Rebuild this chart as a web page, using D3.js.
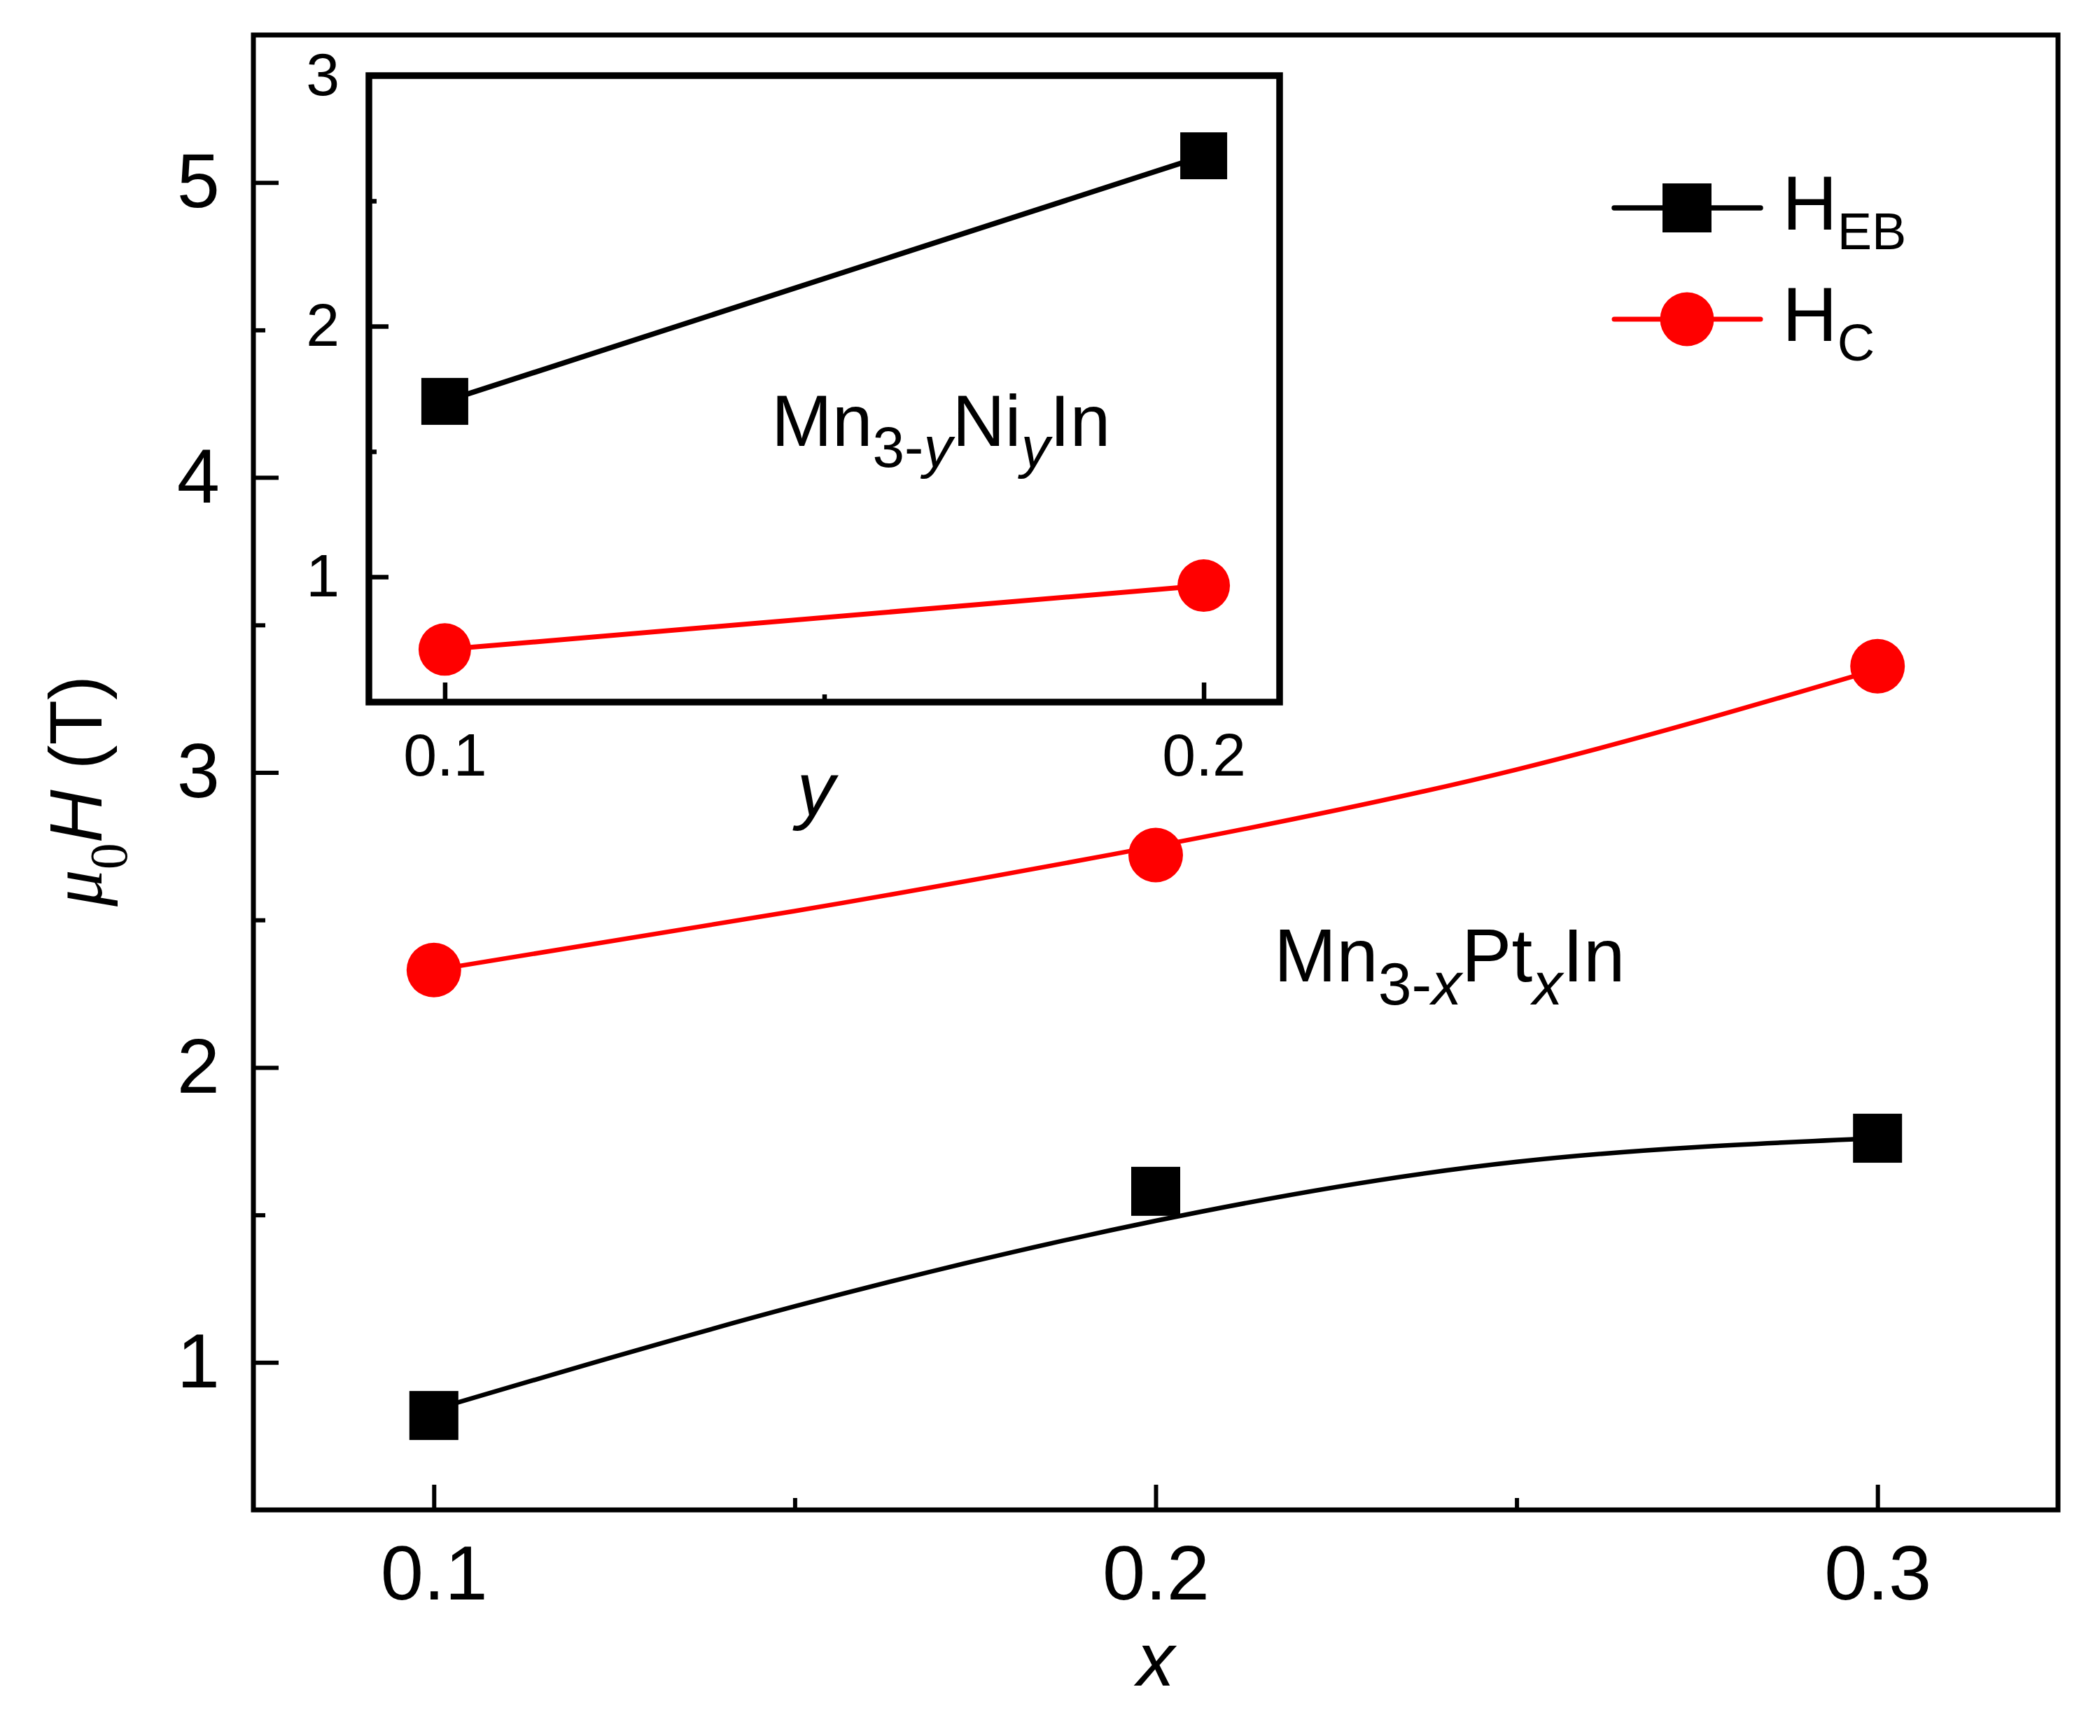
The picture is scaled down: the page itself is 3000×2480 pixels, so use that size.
<!DOCTYPE html>
<html>
<head>
<meta charset="utf-8">
<script src="https://cdn.jsdelivr.net/npm/d3@7"></script>
<style>
    body { margin: 0; background: #fff; }
    text { font-family: "Liberation Sans", Arial, sans-serif; fill: #000; }
</style>
</head>
<body>
<svg id="chart"></svg>
<script>
// main panel: Mn3-xPtxIn
const xVals = [0.1, 0.2, 0.3];
const hebVals = [0.82, 1.58, 1.76];
const hcVals = [2.33, 2.72, 3.36];
// smooth guide curves
const fitX = [0.1, 0.15, 0.2, 0.25, 0.3];
const hebFit = [0.84, 1.19, 1.48, 1.68, 1.76];
const hcFit = [2.33, 2.53, 2.75, 3.01, 3.35];

// inset: Mn3-yNiyIn
const yVals = [0.1, 0.2];
const insetHeb = [1.70, 2.68];
const insetHc = [0.71, 0.965];

const xTicks = [0.1, 0.2, 0.3];
const xMinor = [0.15, 0.25];
const yTicks = [1, 2, 3, 4, 5];
const yMinor = [1.5, 2.5, 3.5, 4.5];
const insetXTicks = [0.1, 0.2];
const insetXMinor = [0.15];
const insetYTicks = [1, 2, 3];
const insetYMinor = [1.5, 2.5];

const width = 3000;
const height = 2480;
const main = { left: 362, right: 2940, top: 50, bottom: 2157 };
const inset = { left: 527, right: 1828, top: 108, bottom: 1003 };

const svg = d3.select("#chart")
    .attr("width", width)
    .attr("height", height);

svg.append("rect")
    .attr("width", width)
    .attr("height", height)
    .attr("fill", "#fff");

// scales
const xScale = d3.scaleLinear().domain([0.075, 0.325]).range([main.left, main.right]);
const yScale = d3.scaleLinear().domain([0.5, 5.5]).range([main.bottom, main.top]);
const ixScale = d3.scaleLinear().domain([0.09, 0.21]).range([inset.left, inset.right]);
const iyScale = d3.scaleLinear().domain([0.5, 3]).range([inset.bottom, inset.top]);

function drawAxes(g, xs, ys, box, opt) {
    const bottom = g.append("g").attr("transform", `translate(0, ${box.bottom})`);
    bottom.call(d3.axisBottom(xs).tickValues(opt.xTicks).tickFormat(d3.format(".1f"))
        .tickSize(-opt.major).tickPadding(opt.xPad));
    const bottomMinor = g.append("g").attr("transform", `translate(0, ${box.bottom})`);
    bottomMinor.call(d3.axisBottom(xs).tickValues(opt.xMinor).tickFormat("").tickSize(-opt.minor));

    const left = g.append("g").attr("transform", `translate(${box.left}, 0)`);
    left.call(d3.axisLeft(ys).tickValues(opt.yTicks).tickFormat(d3.format("d"))
        .tickSize(-opt.major).tickPadding(opt.yPad));
    const leftMinor = g.append("g").attr("transform", `translate(${box.left}, 0)`);
    leftMinor.call(d3.axisLeft(ys).tickValues(opt.yMinor).tickFormat("").tickSize(-opt.minor));

    g.selectAll(".domain").remove();
    g.selectAll(".tick line").attr("stroke", "#000").attr("stroke-width", opt.tickWidth);
    g.selectAll(".tick text")
        .style("font-family", '"Liberation Sans", Arial, sans-serif')
        .style("font-size", opt.fontSize + "px")
        .attr("fill", "#000");

    // frame on top of ticks
    g.append("rect")
        .attr("x", box.left)
        .attr("y", box.top)
        .attr("width", box.right - box.left)
        .attr("height", box.bottom - box.top)
        .attr("fill", "none")
        .attr("stroke", "#000")
        .attr("stroke-width", opt.frameWidth);
}

// main axes
const mainG = svg.append("g");
drawAxes(mainG, xScale, yScale, main, {
    xTicks: xTicks, xMinor: xMinor, yTicks: yTicks, yMinor: yMinor,
    major: 36, minor: 17, xPad: 50, yPad: 48, tickWidth: 6, fontSize: 110, frameWidth: 7
});

// main curves
const fitLine = d3.line()
    .x((d, i) => xScale(fitX[i]))
    .y(d => yScale(d))
    .curve(d3.curveNatural);

svg.append("path")
    .datum(hebFit)
    .attr("d", fitLine)
    .attr("fill", "none")
    .attr("stroke", "#000")
    .attr("stroke-width", 6.5);

svg.append("path")
    .datum(hcFit)
    .attr("d", fitLine)
    .attr("fill", "none")
    .attr("stroke", "#ff0000")
    .attr("stroke-width", 6.5);

// main markers
const sqMain = 70;
svg.selectAll(".heb-pt")
    .data(hebVals)
    .enter()
    .append("rect")
    .attr("class", "heb-pt")
    .attr("x", (d, i) => xScale(xVals[i]) - sqMain / 2)
    .attr("y", d => yScale(d) - sqMain / 2)
    .attr("width", sqMain)
    .attr("height", sqMain)
    .attr("fill", "#000");

svg.selectAll(".hc-pt")
    .data(hcVals)
    .enter()
    .append("circle")
    .attr("class", "hc-pt")
    .attr("cx", (d, i) => xScale(xVals[i]))
    .attr("cy", d => yScale(d))
    .attr("r", 39)
    .attr("fill", "#ff0000");

// inset panel
const insetG = svg.append("g");
insetG.append("rect")
    .attr("x", inset.left)
    .attr("y", inset.top)
    .attr("width", inset.right - inset.left)
    .attr("height", inset.bottom - inset.top)
    .attr("fill", "#fff");

drawAxes(insetG, ixScale, iyScale, inset, {
    xTicks: insetXTicks, xMinor: insetXMinor, yTicks: insetYTicks, yMinor: insetYMinor,
    major: 28, minor: 11, xPad: 44, yPad: 42, tickWidth: 6.5, fontSize: 86, frameWidth: 9.5
});

const insetLine = d3.line()
    .x((d, i) => ixScale(yVals[i]))
    .y(d => iyScale(d));

insetG.append("path")
    .datum(insetHeb)
    .attr("d", insetLine)
    .attr("fill", "none")
    .attr("stroke", "#000")
    .attr("stroke-width", 7.5);

insetG.append("path")
    .datum(insetHc)
    .attr("d", insetLine)
    .attr("fill", "none")
    .attr("stroke", "#ff0000")
    .attr("stroke-width", 7);

const sqInset = 67;
insetG.selectAll(".iheb-pt")
    .data(insetHeb)
    .enter()
    .append("rect")
    .attr("class", "iheb-pt")
    .attr("x", (d, i) => ixScale(yVals[i]) - sqInset / 2)
    .attr("y", d => iyScale(d) - sqInset / 2)
    .attr("width", sqInset)
    .attr("height", sqInset)
    .attr("fill", "#000");

insetG.selectAll(".ihc-pt")
    .data(insetHc)
    .enter()
    .append("circle")
    .attr("class", "ihc-pt")
    .attr("cx", (d, i) => ixScale(yVals[i]))
    .attr("cy", d => iyScale(d))
    .attr("r", 37.5)
    .attr("fill", "#ff0000");

// helper for formula-like labels with subscripts
function richText(x, y, parts, size) {
    const t = svg.append("text")
        .attr("x", x)
        .attr("y", y)
        .style("font-size", size + "px");
    parts.forEach(p => {
        const span = t.append("tspan").text(p.text);
        if (p.size) span.style("font-size", p.size + "px");
        if (p.italic) span.style("font-style", "italic");
        if (p.family) span.style("font-family", p.family);
        if (p.dy) span.attr("dy", p.dy);
    });
    return t;
}

// compound labels
richText(1102, 637, [
    { text: "Mn" },
    { text: "3-", size: 82, dy: 30 },
    { text: "y", size: 82, italic: true },
    { text: "Ni", dy: -30 },
    { text: "y", size: 82, italic: true, dy: 30 },
    { text: "In", dy: -30 }
], 104);

richText(1820, 1402, [
    { text: "Mn" },
    { text: "3-", size: 86, dy: 33 },
    { text: "x", size: 86, italic: true },
    { text: "Pt", dy: -33 },
    { text: "x", size: 86, italic: true, dy: 33 },
    { text: "In", dy: -33 }
], 107);

// legend
const legendKeys = ["EB", "C"];
const legendRows = [297, 456];
const legend = svg.selectAll(".legend")
    .data(legendKeys)
    .enter()
    .append("g")
    .attr("class", "legend")
    .attr("transform", (d, i) => `translate(0, ${legendRows[i]})`);

legend.append("line")
    .attr("x1", 2306)
    .attr("x2", 2515)
    .attr("stroke", (d, i) => i === 0 ? "#000" : "#ff0000")
    .attr("stroke-width", (d, i) => i === 0 ? 7.5 : 7)
    .attr("stroke-linecap", "round");

legend.filter((d, i) => i === 0).append("rect")
    .attr("x", 2410 - 35)
    .attr("y", -35)
    .attr("width", 70)
    .attr("height", 70)
    .attr("fill", "#000");

legend.filter((d, i) => i === 1).append("circle")
    .attr("cx", 2410)
    .attr("r", 38.5)
    .attr("fill", "#ff0000");

const legendText = legend.append("text")
    .attr("x", 2546)
    .attr("y", 31)
    .style("font-size", "109px");
legendText.append("tspan").text("H");
legendText.append("tspan")
    .attr("dy", 28)
    .style("font-size", "74px")
    .text(d => d);

// axis titles
svg.append("text")
    .attr("x", (main.left + main.right) / 2)
    .attr("y", 2408)
    .attr("text-anchor", "middle")
    .style("font-size", "108px")
    .style("font-style", "italic")
    .text("x");

svg.append("text")
    .attr("x", (inset.left + inset.right) / 2 - 12)
    .attr("y", 1165)
    .attr("text-anchor", "middle")
    .style("font-size", "108px")
    .style("font-style", "italic")
    .text("y");

const yTitle = svg.append("text")
    .attr("transform", "translate(145, 1130) rotate(-90)")
    .attr("text-anchor", "middle")
    .style("font-size", "105px");
yTitle.append("tspan")
    .style("font-family", '"Liberation Serif", "Times New Roman", serif')
    .style("font-style", "italic")
    .text("μ");
yTitle.append("tspan")
    .attr("dy", 36)
    .style("font-family", '"Liberation Serif", "Times New Roman", serif')
    .style("font-size", "76px")
    .text("0");
yTitle.append("tspan")
    .attr("dy", -36)
    .style("font-style", "italic")
    .text("H");
yTitle.append("tspan")
    .text(" (T)");
</script>
</body>
</html>
